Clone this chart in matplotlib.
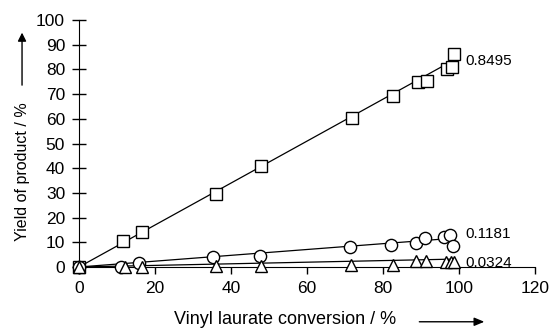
import matplotlib.pyplot as plt
from matplotlib.patches import FancyArrowPatch

plt.rcParams['font.family'] = ['Liberation Sans', 'DejaVu Sans']

# data
sq_x = [0, 11.7, 16.5, 36.0, 48.0, 71.8, 82.7, 89.1, 91.5, 96.8, 98.2, 98.8]
sq_y = [0, 10.6, 14.2, 29.4, 40.7, 60.2, 69.4, 75.1, 75.4, 80.2, 80.8, 86.2]
ci_x = [0, 11.0, 15.8, 35.3, 47.5, 71.3, 82.1, 88.7, 91.1, 96.1, 97.6, 98.3]
ci_y = [0, 0.1, 1.5, 4.2, 4.4, 7.9, 9.0, 9.8, 11.6, 12.2, 12.9, 8.5]
tr_x = [0, 12.0, 16.5, 36.0, 48.0, 71.5, 82.5, 88.8, 91.3, 96.5, 97.8, 98.6]
tr_y = [0, 0.0, 0.0, 0.3, 0.5, 0.9, 0.9, 2.3, 2.3, 2.0, 2.2, 2.2]
slopes = [0.8495, 0.1181, 0.0324]
slope_labels = ["0.8495", "0.1181", "0.0324"]
fit_end = [98.8, 98.3, 98.6]
label_y = [83.5, 13.3, 1.5]

fig = plt.figure(figsize=(5.51, 3.28), dpi=100)
ax = fig.add_axes([0.1434, 0.186, 0.8276, 0.753])

series = [(sq_x, sq_y, 's', 9.3), (ci_x, ci_y, 'o', 8.8), (tr_x, tr_y, '^', 8.5)]
for (xs, ys, m, ms), k, xe, lab, ly in zip(series, slopes, fit_end, slope_labels, label_y):
    ax.plot([0, xe], [0, k * xe], color='black', lw=0.9, zorder=2)
    ax.plot(xs, ys, linestyle='none', marker=m, markersize=ms,
            markerfacecolor='white', markeredgecolor='black', markeredgewidth=1, zorder=3)
    ax.text(101.8, ly, lab, fontsize=11, va='center', ha='left')

ax.set_xlim(0, 120)
ax.set_ylim(0, 100)
ax.set_xticks(range(0, 121, 20))
ax.set_yticks(range(0, 101, 10))
ax.spines['top'].set_visible(False)
ax.spines['right'].set_visible(False)
ax.spines['left'].set_bounds(0, 100)
ax.tick_params(axis='y', direction='inout', length=10, width=1, pad=5, labelsize=12.5)
ax.tick_params(axis='x', direction='out', length=5, width=1, pad=5, labelsize=12.5)
for a in ax.lines:
    a.set_clip_on(False)

fig.text(0.04, 0.477, "Yield of product / %", rotation=90, ha='center', va='center', fontsize=11.5)
fig.text(0.518, 0.026, "Vinyl laurate conversion / %", ha='center', va='center', fontsize=13)
fig.add_artist(FancyArrowPatch(
    (0.04, 0.732), (0.04, 0.909), transform=fig.transFigure,
    arrowstyle='-|>,head_length=5,head_width=2.5', color='black', lw=1))
fig.add_artist(FancyArrowPatch(
    (0.756, 0.019), (0.884, 0.019), transform=fig.transFigure,
    arrowstyle='-|>,head_length=6,head_width=2.5', color='black', lw=1))

fig.savefig('out.png', dpi=100)
